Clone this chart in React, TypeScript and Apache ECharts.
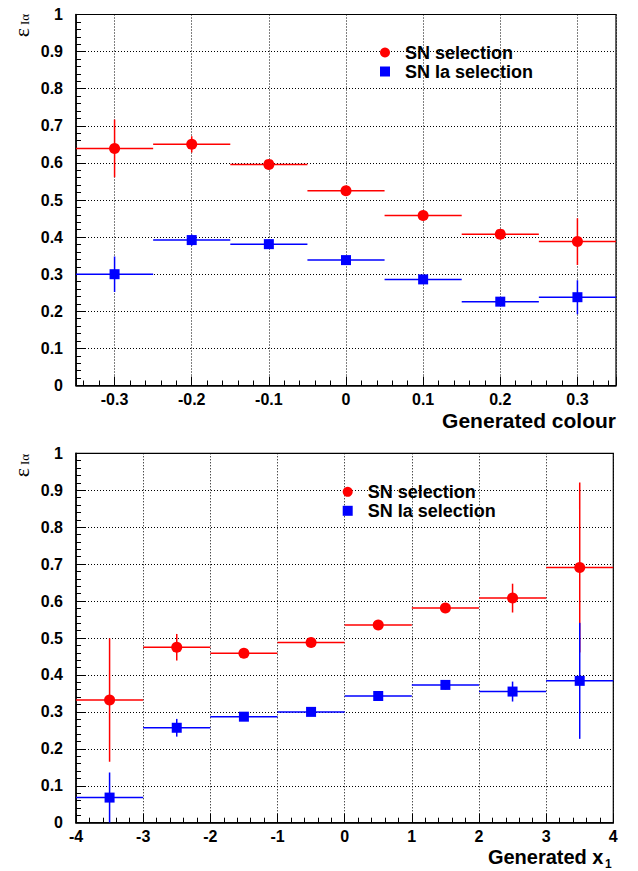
import React, { useEffect, useRef } from "react";
import * as echarts from "echarts";

// ---- data ----
const colourBins = [-0.3, -0.2, -0.1, 0, 0.1, 0.2, 0.3];
const colourBinHalfWidth = 0.05;
const colourSN = [0.639, 0.65, 0.596, 0.525, 0.458, 0.408, 0.388];
const colourSNErr = [0.078, 0.022, 0.012, 0.01, 0.012, 0.012, 0.063];
const colourIa = [0.3, 0.392, 0.381, 0.338, 0.286, 0.226, 0.238];
const colourIaErr = [0.048, 0.015, 0.012, 0.01, 0.01, 0.01, 0.046];

const x1Bins = [-3.5, -2.5, -1.5, -0.5, 0.5, 1.5, 2.5, 3.5];
const x1BinHalfWidth = 0.5;
const x1SN = [0.332, 0.475, 0.459, 0.488, 0.535, 0.581, 0.608, 0.691];
const x1SNErr = [0.167, 0.036, 0.012, 0.012, 0.012, 0.012, 0.039, 0.23];
const x1Ia = [0.068, 0.257, 0.287, 0.3, 0.343, 0.373, 0.355, 0.384];
const x1IaErr = [0.068, 0.024, 0.012, 0.01, 0.01, 0.012, 0.027, 0.157];

const SN_NAME = "SN selection";
const IA_NAME = "SN Ia selection";
const X_TITLE_TOP = "Generated colour";
const X_TITLE_BOTTOM = "Generated x";
const X_TITLE_BOTTOM_SUB = "1";
const Y_TITLE = "ε";
const Y_TITLE_SUB = "Iα";

const RED = "#ff0000";
const BLUE = "#0000ff";
const FONT = "'Liberation Sans', Arial, Helvetica, sans-serif";

function errData(bins: number[], vals: number[], errs: number[], half: number) {
  return bins.map((b, i) => [b, vals[i], half, errs[i]]);
}
function ptData(bins: number[], vals: number[]) {
  return bins.map((b, i) => [b, vals[i]]);
}

function errSeries(name: string, gridIdx: number, data: number[][], color: string) {
  return {
    type: "custom",
    name,
    xAxisIndex: gridIdx,
    yAxisIndex: gridIdx,
    encode: { x: 0, y: 1 },
    clip: true,
    z: 3,
    data,
    renderItem: (params: any, api: any) => {
      const x = api.value(0);
      const y = api.value(1);
      const ex = api.value(2);
      const ey = api.value(3);
      const a = api.coord([x - ex, y]);
      const b = api.coord([x + ex, y]);
      const c = api.coord([x, y - ey]);
      const d = api.coord([x, y + ey]);
      return {
        type: "group",
        children: [
          { type: "line", shape: { x1: a[0], y1: a[1], x2: b[0], y2: b[1] }, style: { stroke: color, lineWidth: 1.5 } },
          { type: "line", shape: { x1: c[0], y1: c[1], x2: d[0], y2: d[1] }, style: { stroke: color, lineWidth: 1.5 } },
        ],
      };
    },
  };
}

function axisCommonY(gridIndex: number) {
  return {
    type: "value",
    gridIndex,
    min: 0,
    max: 1,
    interval: 0.1,
    axisLine: { show: true, onZero: false, lineStyle: { color: "#000", width: 1.5 } },
    axisTick: { show: true, inside: true, length: 9, lineStyle: { color: "#000", width: 1 } },
    minorTick: { show: true, splitNumber: 5, length: 5, lineStyle: { color: "#000", width: 1 } },
    splitLine: { show: true, lineStyle: { color: "#000", type: [1, 2], width: 1 } },
    axisLabel: { fontFamily: FONT, fontWeight: "bold", fontSize: 16, color: "#000", margin: 13 },
  };
}

const legendBase = {
  orient: "vertical",
  padding: 0,
  itemWidth: 10,
  itemHeight: 10,
  itemGap: 1,
  selectedMode: false,
  textStyle: { fontFamily: FONT, fontWeight: "bold", fontSize: 18, color: "#000", padding: [0, 0, 0, 10] },
  data: [
    { name: SN_NAME, icon: "circle" },
    { name: IA_NAME, icon: "rect" },
  ],
};

const yTitle = (cy: number) => [
  { type: "text", x: 21.5, y: cy, rotation: Math.PI / 2, style: { text: Y_TITLE, font: "22px 'Liberation Serif', serif", fill: "#000", align: "center", verticalAlign: "middle" } },
  { type: "text", x: 24, y: cy - 13, rotation: Math.PI / 2, style: { text: Y_TITLE_SUB, font: "13px 'Liberation Serif', serif", fill: "#000", align: "center", verticalAlign: "middle" } },
];

export default function App() {
  const ref = useRef<HTMLDivElement>(null);
  useEffect(() => {
    if (!ref.current) return;
    const chart = echarts.init(ref.current, undefined, { renderer: "svg" });
    const option: any = {
      animation: false,
      backgroundColor: "#fff",
      grid: [
        { left: 76, top: 14.5, width: 540, height: 371, show: true, borderColor: "#000", borderWidth: 1.2, backgroundColor: "transparent" },
        { left: 76, top: 453.3, width: 537.3, height: 369.4, show: true, borderColor: "#000", borderWidth: 1.2, backgroundColor: "transparent" },
      ],
      xAxis: [
        {
          type: "value",
          gridIndex: 0,
          min: -0.35,
          max: 0.35,
          splitNumber: 7,
          axisLine: { show: true, onZero: false, lineStyle: { color: "#000", width: 1.5 } },
          axisTick: { show: true, inside: true, length: 9, lineStyle: { color: "#000", width: 1 } },
          minorTick: { show: true, splitNumber: 5, length: 5, lineStyle: { color: "#000", width: 1 } },
          splitLine: { show: true, lineStyle: { color: "#000", type: [1, 2], width: 1 } },
          axisLabel: {
            fontFamily: FONT,
            fontWeight: "bold",
            fontSize: 16,
            color: "#000",
            margin: 6,
            formatter: (v: number) => {
              const t = Math.round(v * 10);
              return Math.abs(t - v * 10) < 1e-6 ? String(t / 10) : "";
            },
          },
        },
        {
          type: "value",
          gridIndex: 1,
          min: -4,
          max: 4,
          interval: 1,
          axisLine: { show: true, onZero: false, lineStyle: { color: "#000", width: 1.5 } },
          axisTick: { show: true, inside: true, length: 9, lineStyle: { color: "#000", width: 1 } },
          minorTick: { show: true, splitNumber: 5, length: 5, lineStyle: { color: "#000", width: 1 } },
          splitLine: { show: true, lineStyle: { color: "#000", type: [1, 2], width: 1 } },
          axisLabel: { fontFamily: FONT, fontWeight: "bold", fontSize: 16, color: "#000", margin: 6 },
        },
      ],
      yAxis: [axisCommonY(0), axisCommonY(1)],
      legend: [
        { ...legendBase, left: 380, top: 43.5 },
        { ...legendBase, left: 342.7, top: 482.8 },
      ],
      graphic: [
        ...yTitle(32.5),
        ...yTitle(472.5),
        { type: "text", x: 616, y: 420.5, style: { text: X_TITLE_TOP, font: `bold 21px ${FONT}`, fill: "#000", align: "right", verticalAlign: "middle" } },
        { type: "text", x: 603.5, y: 857, style: { text: X_TITLE_BOTTOM, font: `bold 20px ${FONT}`, fill: "#000", align: "right", verticalAlign: "middle" } },
        { type: "text", x: 605, y: 864, style: { text: X_TITLE_BOTTOM_SUB, font: `bold 12px ${FONT}`, fill: "#000", align: "left", verticalAlign: "middle" } },
      ],
      series: [
        errSeries("SN err colour", 0, errData(colourBins, colourSN, colourSNErr, colourBinHalfWidth), RED),
        errSeries("Ia err colour", 0, errData(colourBins, colourIa, colourIaErr, colourBinHalfWidth), BLUE),
        errSeries("SN err x1", 1, errData(x1Bins, x1SN, x1SNErr, x1BinHalfWidth), RED),
        errSeries("Ia err x1", 1, errData(x1Bins, x1Ia, x1IaErr, x1BinHalfWidth), BLUE),
        { type: "scatter", name: SN_NAME, xAxisIndex: 0, yAxisIndex: 0, symbol: "circle", symbolSize: 11, itemStyle: { color: RED, opacity: 1 }, z: 4, data: ptData(colourBins, colourSN) },
        { type: "scatter", name: IA_NAME, xAxisIndex: 0, yAxisIndex: 0, symbol: "rect", symbolSize: 10, itemStyle: { color: BLUE, opacity: 1 }, z: 4, data: ptData(colourBins, colourIa) },
        { type: "scatter", name: SN_NAME, xAxisIndex: 1, yAxisIndex: 1, symbol: "circle", symbolSize: 11, itemStyle: { color: RED, opacity: 1 }, z: 4, data: ptData(x1Bins, x1SN) },
        { type: "scatter", name: IA_NAME, xAxisIndex: 1, yAxisIndex: 1, symbol: "rect", symbolSize: 10, itemStyle: { color: BLUE, opacity: 1 }, z: 4, data: ptData(x1Bins, x1Ia) },
      ],
    };
    chart.setOption(option);
    return () => chart.dispose();
  }, []);
  return <div ref={ref} style={{ position: "absolute", left: 0, top: 0, width: 638, height: 871 }} />;
}
